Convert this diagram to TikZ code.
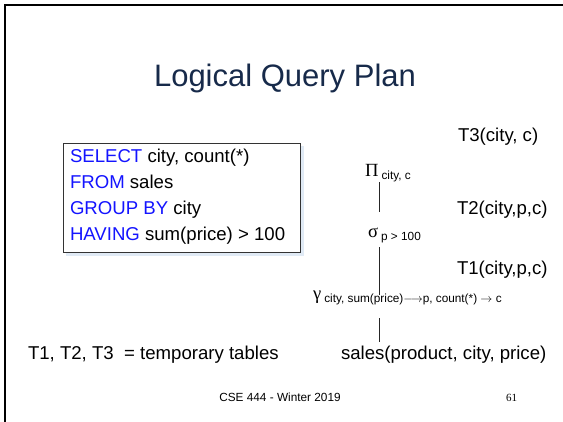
\documentclass[tikz,border=0pt]{standalone}
\usepackage{fontspec}
\setmainfont{Liberation Sans}
\newfontfamily\symf{Liberation Serif}
\usetikzlibrary{calc}
\definecolor{titlecol}{RGB}{23,42,74}
\definecolor{sqlblue}{RGB}{20,20,255}
\definecolor{shadowcol}{RGB}{224,234,245}
\newcommand{\fsz}[1]{\fontsize{#1}{#1}\selectfont}
\begin{document}
\begin{tikzpicture}[x=1pt,y=-1pt,
  txt/.style={inner sep=0pt, outer sep=0pt, anchor=base west, font=\fsz{18.6}},
  edge/.style={line width=0.9pt, black!85}]
\useasboundingbox (0,0) rectangle (563,422);
\fill[white] (0,0) rectangle (563,422);
\draw[line width=2.6pt] (5,422) -- (5,5) -- (563,5);
% title
\node[anchor=base, inner sep=0pt, font=\fsz{31}, text=titlecol] (title) at (285,87) {Logical Query Plan};
% SQL box
\fill[shadowcol] (66,146) rectangle (304,256);
\node[draw=black!80, line width=0.8pt, fill=white, minimum width=237pt, minimum height=109pt, anchor=north west, inner sep=0pt] (sqlbox) at (63,143) {};
\node[txt] (sql1) at (70,163) {\textcolor{sqlblue}{SELECT} city, count(*)};
\node[txt] (sql2) at (70,189) {\textcolor{sqlblue}{FROM} sales};
\node[txt] (sql3) at (70,215) {\textcolor{sqlblue}{GROUP BY} city};
\node[txt] (sql4) at (70,241) {\textcolor{sqlblue}{HAVING} sum(price) > 100};
% table labels
\node[txt] (t3) at (458,142) {T3(city, c)};
\node[txt] (t2) at (457,215) {T2(city,p,c)};
\node[txt] (t1) at (457,275) {T1(city,p,c)};
% tree
\coordinate (lx) at (379,0);
\node[txt] (pi) at (365,177) {{\symf Π}\,\raisebox{-3pt}{\fsz{11.8}city, c}};
\node[txt] (sigma) at (368,238) {{\symf σ}\,\raisebox{-3pt}{\fsz{11.8}p > 100}};
\node[txt] (gamma) at (313,300) {{\symf γ}\,\raisebox{-3pt}{\fsz{11.8}city, sum(price)$\longrightarrow$p, count(*) $\to$ c}};
\node[txt] (sales) at (341,360) {sales(product, city, price)};
\node[txt] (temp) at (28,360) {T1, T2, T3~ = temporary tables};
\draw[edge, shorten >=16.7pt] (pi.south -| lx) -- (sigma.north -| lx);
\draw[edge, shorten <=3.6pt, shorten >=-3.7pt] (sigma.south -| lx) -- (gamma.north -| lx);
\draw[edge, shorten <=12.6pt, shorten >=5pt] (gamma.south -| lx) -- (sales.north -| lx);
% footer
\node[anchor=base, inner sep=0pt, font=\fsz{11.8}] (foot) at (280,402) {CSE 444 - Winter 2019};
\node[txt, font=\symf\fsz{11}] (pg) at (506,402) {61};
\end{tikzpicture}
\end{document}
